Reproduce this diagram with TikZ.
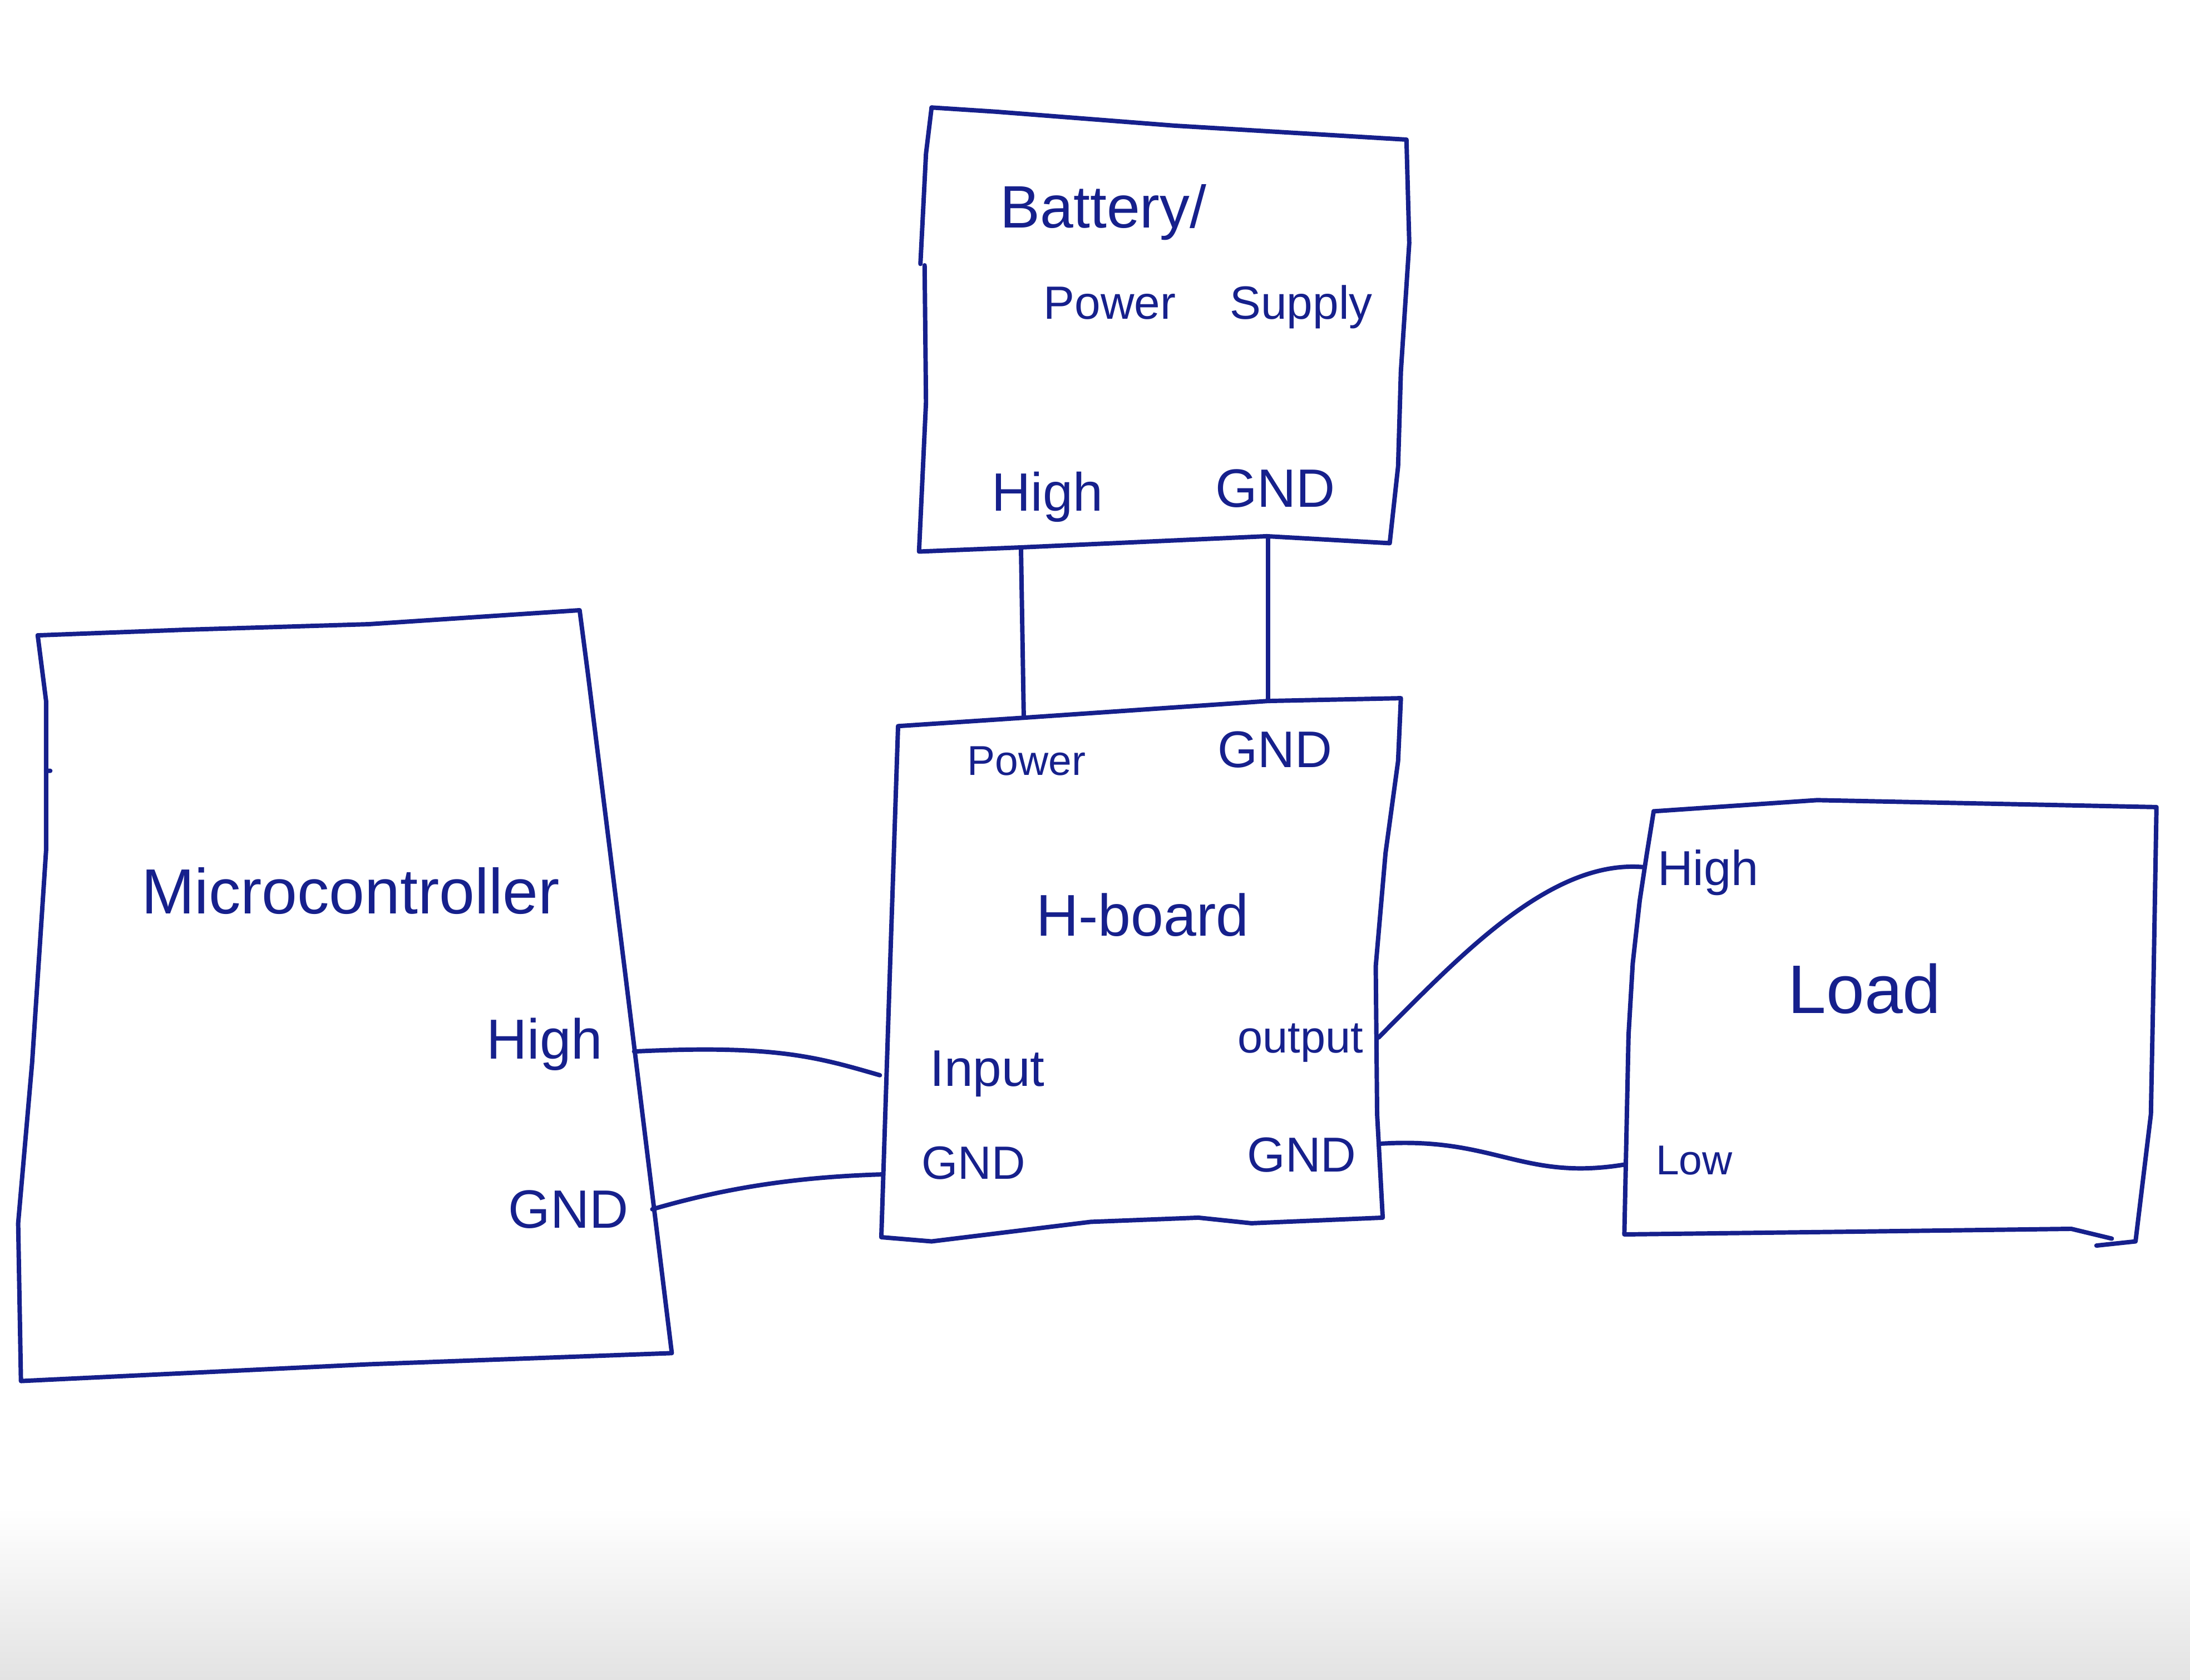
\documentclass[tikz,border=0pt]{standalone}
\usepackage{fontspec}
\setmainfont{Liberation Sans}
\definecolor{ink}{RGB}{22,32,140}
\newcommand\fsz[1]{\fontsize{#1}{#1}\selectfont}
\begin{document}
\begin{tikzpicture}[x=0.1mm,y=-0.1mm,
  inkline/.style={draw=ink, line width=0.9pt, line join=round, line cap=round},
  wire/.style={draw=ink, line width=0.9pt, line cap=round},
  lbl/.style={text=ink, inner sep=0pt}]
\useasboundingbox (0,0) rectangle (1568,1203);
% paper shadow at the bottom
\shade[top color=white, bottom color=black!11, draw=none] (0,1080) rectangle (1568,1203);

% Battery / Power supply box
\draw[inkline] (667,77) -- (713,80) -- (841,90) -- (1007,100) -- (1009,174) -- (1003,266)
  -- (1001,334) -- (995,389) -- (907,384) -- (731,392) -- (658,395) -- (663,288) -- (662,190);
\draw[inkline] (659,189) -- (663,110) -- (667,77);

% Microcontroller box
\draw[inkline] (27,455) -- (132,451) -- (264,447) -- (415,437) -- (421,483)
  -- (448,700) -- (481,969) -- (264,977) -- (15,989)
  -- (13,876) -- (23,761) -- (33,609) -- (33,552);
\draw[inkline] (36,552) -- (33,552) -- (33,502) -- (27,455);

% H-board box
\draw[inkline] (643,520) -- (733,514) -- (908,502) -- (1003,500) -- (1001,545) -- (992,611)
  -- (985,692) -- (986,798) -- (990,872) -- (896,876) -- (858,872) -- (781,875)
  -- (667,889) -- (631,886) -- (637,700) -- cycle;

% Load box
\draw[inkline] (1184,581) -- (1301,573) -- (1544,578) -- (1542,695) -- (1540,798)
  -- (1529,889) -- (1501,892);
\draw[inkline] (1512,887) -- (1483,880) -- (1329,882) -- (1163,884) -- (1166,741)
  -- (1169,690) -- (1174,645) -- (1179,612) -- (1184,581);

% connection points
\coordinate (bathi) at (731,392);
\coordinate (batgnd) at (908,385);
\coordinate (hbpw) at (733,514);
\coordinate (hbgndt) at (908,502);
\coordinate (mchi) at (454,753);
\coordinate (mcgnd) at (467,866);
\coordinate (hbin) at (630,770);
\coordinate (hbgndl) at (632,841);
\coordinate (hbout) at (987,743);
\coordinate (hbgndr) at (989,819);
\coordinate (ldhi) at (1177,621);
\coordinate (ldlo) at (1163,834);

% connectors
\draw[wire] (bathi) -- (hbpw);
\draw[wire] (batgnd) -- (hbgndt);
\draw[wire] (mchi) .. controls (555,748) and (585,757) .. (hbin);
\draw[wire] (mcgnd) .. controls (515,852) and (565,843) .. (hbgndl);
\draw[wire] (hbout) .. controls (1045,685) and (1110,615) .. (ldhi);
\draw[wire] (hbgndr) .. controls (1070,814) and (1090,846) .. (ldlo);

% labels
\node[lbl, font=\fsz{12.2pt}] (tbat) at (790,152) {Battery/};
\node[lbl, font=\fsz{9.5pt}] (tps) at (865,220) {Power\hspace{11pt}Supply};
\node[lbl, font=\fsz{11pt}] (tbhi) at (750,356) {High};
\node[lbl, font=\fsz{11pt}] (tbgnd) at (913,350) {GND};

\node[lbl, font=\fsz{13pt}] (tmc) at (251,638) {Microcontroller};
\node[lbl, font=\fsz{11.5pt}] (tmhi) at (390,748) {High};
\node[lbl, font=\fsz{11pt}] (tmgnd) at (407,866) {GND};

\node[lbl, font=\fsz{8.5pt}] (thpw) at (735,545) {Power};
\node[lbl, font=\fsz{10.5pt}] (thgnd) at (913,537) {GND};
\node[lbl, font=\fsz{12pt}] (thb) at (818,655) {H-board};
\node[lbl, font=\fsz{10.5pt}] (thin) at (707,769) {Input};
\node[lbl, font=\fsz{9.2pt}] (thout) at (931,747) {output};
\node[lbl, font=\fsz{9.5pt}] (thgl) at (697,833) {GND};
\node[lbl, font=\fsz{10pt}] (thgr) at (932,827) {GND};

\node[lbl, font=\fsz{10pt}] (tlhi) at (1223,625) {High};
\node[lbl, font=\fsz{14pt}] (tload) at (1335,708) {Load};
\node[lbl, font=\fsz{8.5pt}] (tlow) at (1213,831) {Low};
\end{tikzpicture}
\end{document}
